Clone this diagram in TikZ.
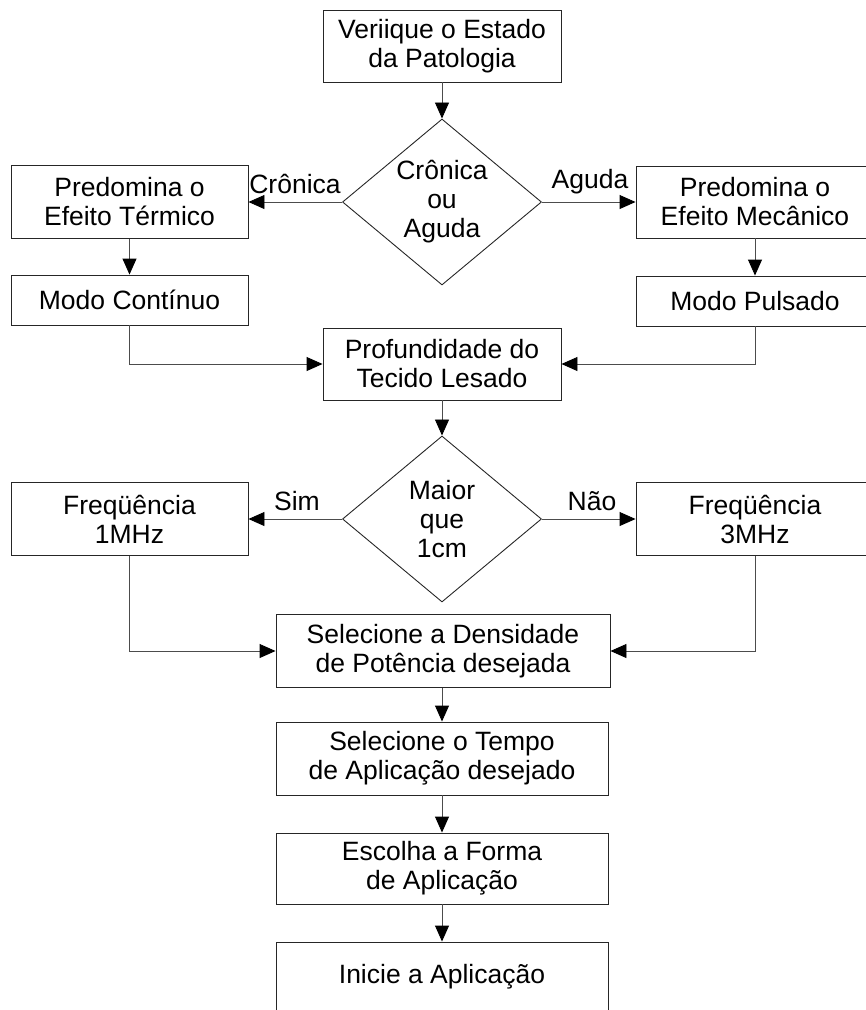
\documentclass[tikz,border=0pt]{standalone}
\usepackage{fontspec}
\setmainfont{Liberation Sans}
\usetikzlibrary{shapes.geometric,arrows.meta}

\begin{document}
\begin{tikzpicture}[x=1pt, y=-1pt,
    box/.style={rectangle, draw=black!85, line width=0.9pt, align=center, inner sep=0pt,
        font=\fontsize{26.5}{29}\selectfont},
    decision/.style={diamond, draw=black!85, line width=0.9pt, align=center, inner sep=0pt,
        aspect=1.2, minimum width=199pt, minimum height=166pt,
        font=\fontsize{26.5}{29}\selectfont},
    arrow/.style={-{Triangle[length=16pt,width=14pt,color=black]}, black!70, line width=0.9pt},
    edgetext/.style={inner sep=0pt, font=\fontsize{26.5}{29}\selectfont}
]
\clip (0,0) rectangle (866,1010);

% Estado da patologia
\node[box, minimum width=238pt, minimum height=72pt] (veri) at (442,46) {Veriique o Estado\\da Patologia};
\node[decision] (cronica) at (442,202) {Crônica\\ou\\Aguda};

% Ramos
\node[box, minimum width=237pt, minimum height=73pt] (termico) at (129.5,202) {Predomina o\\Efeito Térmico};
\node[box, minimum width=238pt, minimum height=72pt] (mecanico) at (755,202) {Predomina o\\Efeito Mecânico};
\node[box, minimum width=237pt, minimum height=50pt] (continuo) at (129.5,300) {Modo Contínuo};
\node[box, minimum width=238pt, minimum height=50pt] (pulsado) at (755,301) {Modo Pulsado};

\node[edgetext] (tcronica) at (295,184) {Crônica};
\node[edgetext] (taguda) at (590,182) {Aguda};

% Profundidade
\node[box, minimum width=238pt, minimum height=72pt] (profund) at (442,364) {Profundidade do\\Tecido Lesado};
\node[decision] (maior) at (442,519) {Maior\\que\\1cm};

\node[box, minimum width=237pt, minimum height=73pt] (freq1) at (129.5,519) {Freqüência\\1MHz};
\node[box, minimum width=238pt, minimum height=73pt] (freq3) at (755,519) {Freqüência\\3MHz};

\node[edgetext] (tsim) at (297,501) {Sim};
\node[edgetext] (tnao) at (592,501) {Não};

% Sequencia final
\node[box, minimum width=334pt, minimum height=73pt] (densidade) at (443,651) {Selecione a Densidade\\de Potência desejada};
\node[box, minimum width=332pt, minimum height=73pt] (tempo) at (442,758.5) {Selecione o Tempo\\de Aplicação desejado};
\node[box, minimum width=332pt, minimum height=71pt] (forma) at (442,868.5) {Escolha a Forma\\de Aplicação};
\node[box, minimum width=332pt, minimum height=70pt] (inicie) at (442,977) {Inicie a Aplicação};

% Conexoes
\draw[arrow] (veri) -- (cronica);
\draw[arrow] (cronica) -- (termico);
\draw[arrow] (cronica) -- (mecanico);
\draw[arrow] (termico) -- (continuo);
\draw[arrow] (mecanico) -- (pulsado);
\draw[arrow] (continuo.south) |- (profund.west);
\draw[arrow] (pulsado.south) |- (profund.east);
\draw[arrow] (profund) -- (maior);
\draw[arrow] (maior) -- (freq1);
\draw[arrow] (maior) -- (freq3);
\draw[arrow] (freq1.south) |- (densidade.west);
\draw[arrow] (freq3.south) |- (densidade.east);
\draw[arrow] (densidade.south -| tempo.north) -- (tempo.north);
\draw[arrow] (tempo) -- (forma);
\draw[arrow] (forma) -- (inicie);

\end{tikzpicture}
\end{document}
